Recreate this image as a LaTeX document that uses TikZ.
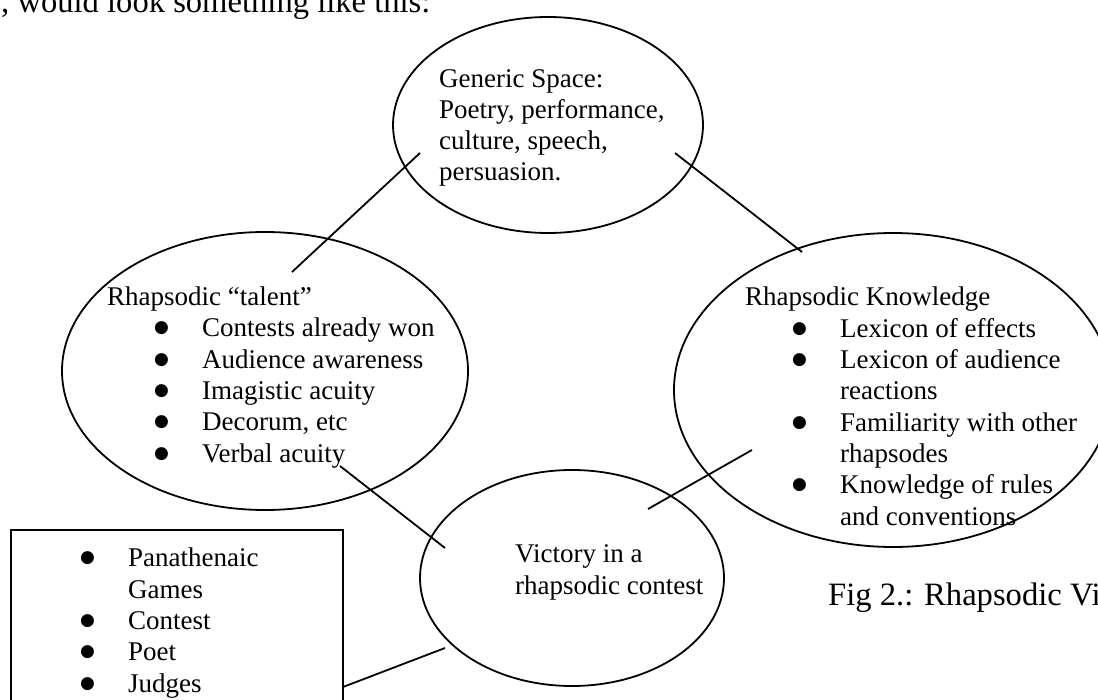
\documentclass[tikz,border=0pt]{standalone}
\usepackage{fontspec}
\setmainfont{Liberation Serif}
\newfontfamily\dotfont{DejaVu Sans}
\usepackage{tikz}
\usetikzlibrary{shapes.geometric, positioning, calc}

\newcommand{\bdot}{{\dotfont\fontsize{17}{17}\selectfont\raisebox{4pt}{●}}}
\newcommand{\bitem}[1]{\hspace*{47pt}\makebox[48pt][l]{\bdot}#1}
\newcommand{\bmore}[1]{\hspace*{95pt}#1}

\begin{document}
\begin{tikzpicture}[
        x=1pt, y=-1pt,
        blob/.style={ellipse, draw, line width=1.8pt, inner sep=0pt},
        panel/.style={rectangle, draw, line width=1.8pt, inner sep=0pt},
        body/.style={font=\fontsize{27}{31.3}\selectfont, inner sep=0pt, anchor=base west, align=left},
        page/.style={font=\fontsize{32.6}{37.5}\selectfont, inner sep=0pt, anchor=base west},
        link/.style={line width=1.8pt}
    ]
        \useasboundingbox (0,0) rectangle (1098,700);
        \clip (0,0) rectangle (1098,700);

        % Running text of the page
        \node[page] (lead) at (1,13) {, would look something like this:};
        \node[page] (caption) at (828,605) {Fig 2.: Rhapsodic Vic};

        % Generic space (text placed by its last baseline)
        \node[blob, minimum width=310pt, minimum height=216pt] (generic) at (548,125) {};
        \node[body] (generic text) at (439,181) {
            Generic Space:\\
            Poetry, performance,\\
            culture, speech,\\
            persuasion.
        };

        % Talent
        \node[blob, minimum width=406pt, minimum height=278pt] (talent) at (265,371) {};
        \node[body] (talent text) at (107,462) {
            Rhapsodic “talent”\\
            \bitem{Contests already won}\\
            \bitem{Audience awareness}\\
            \bitem{Imagistic acuity}\\
            \bitem{Decorum, etc}\\
            \bitem{Verbal acuity}
        };

        % Knowledge
        \node[blob, minimum width=438pt, minimum height=314pt] (know) at (893,390) {};
        \node[body] (know text) at (745,525) {
            Rhapsodic Knowledge\\
            \bitem{Lexicon of effects}\\
            \bitem{Lexicon of audience}\\
            \bmore{reactions}\\
            \bitem{Familiarity with other}\\
            \bmore{rhapsodes}\\
            \bitem{Knowledge of rules}\\
            \bmore{and conventions}
        };

        % Victory
        \node[blob, minimum width=304pt, minimum height=216pt] (victory) at (572,578) {};
        \node[body] (victory text) at (515,594) {
            Victory in a\\
            rhapsodic contest
        };

        % Setting box
        \node[panel, minimum width=332pt, minimum height=200pt] (games) at (177,630) {};
        \node[body] (games text) at (33,692) {
            \bitem{Panathenaic}\\
            \bmore{Games}\\
            \bitem{Contest}\\
            \bitem{Poet}\\
            \bitem{Judges}
        };

        % Connector ends
        \coordinate (generic-l) at (420,153);
        \coordinate (generic-r) at (675,153);
        \coordinate (talent-u) at (292,272);
        \coordinate (talent-d) at (340,466);
        \coordinate (know-u) at (802,252);
        \coordinate (know-d) at (752,450);
        \coordinate (victory-l) at (445,548);
        \coordinate (victory-r) at (648,509);
        \coordinate (victory-b) at (445,648);
        \coordinate (games-r) at (343,687);

        % Connectors
        \draw[link] (generic-l) -- (talent-u);
        \draw[link] (generic-r) -- (know-u);
        \draw[link] (talent-d) -- (victory-l);
        \draw[link] (victory-r) -- (know-d);
        \draw[link] (games-r) -- (victory-b);

    \end{tikzpicture}
\end{document}
